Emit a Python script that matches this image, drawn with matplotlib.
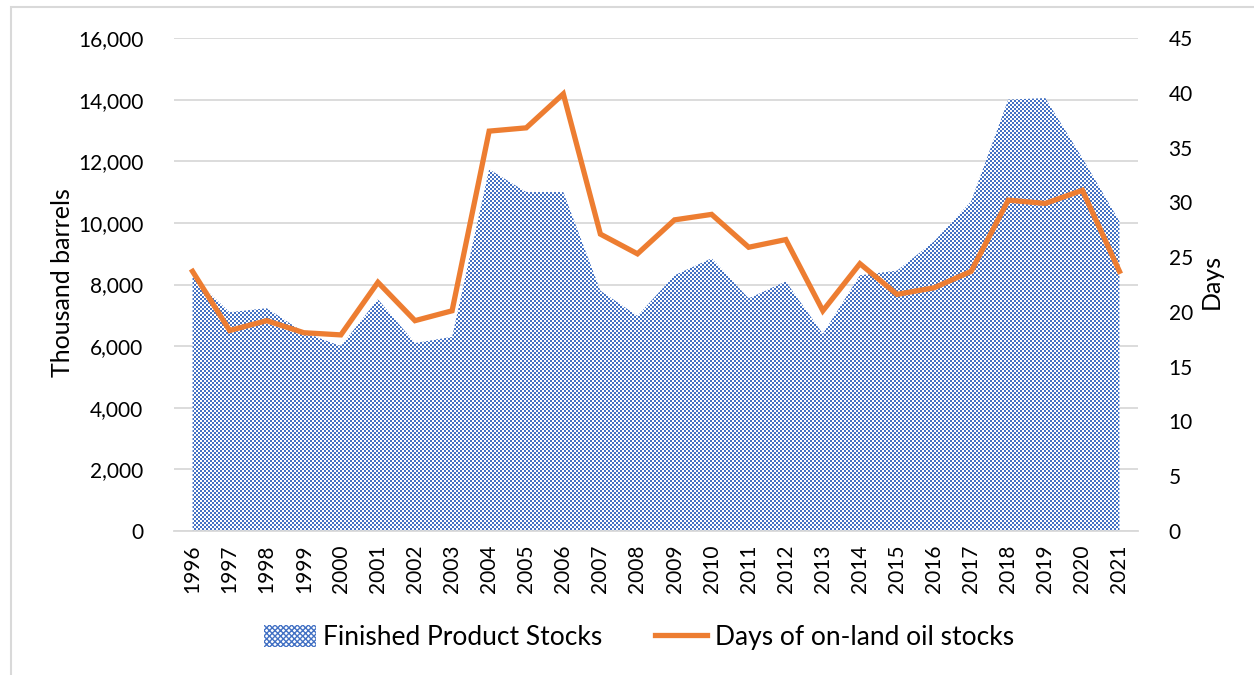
import numpy as np
import matplotlib
matplotlib.use("Agg")
import matplotlib.pyplot as plt
import matplotlib.patches as patches
from matplotlib.lines import Line2D
from matplotlib.ticker import FuncFormatter, MultipleLocator

plt.rcParams['font.family'] = ['Lato', 'DejaVu Sans']

# data
years = [str(y) for y in range(1996, 2022)]
stocks = [8250, 7100, 7230, 6450, 6000, 7520, 6100, 6300, 11740, 11000,
          11000, 7800, 6980, 8300, 8850, 7550, 8100, 6400, 8300, 8450,
          9400, 10700, 14000, 14050, 12100, 10050]
days = [23.7, 18.3, 19.2, 18.1, 17.9, 22.7, 19.2, 20.1, 36.5, 36.8,
        39.9, 27.1, 25.3, 28.4, 28.9, 25.9, 26.6, 20.1, 24.4, 21.6,
        22.2, 23.7, 30.2, 29.9, 31.1, 23.7]

blue = '#4472C4'
orange = '#ED7D31'
grid_c = '#D9D9D9'

W, H = 1254, 675
fig = plt.figure(figsize=(W / 100, H / 100), dpi=100)
ax = fig.add_axes([174 / W, 1 - 531 / H, 964 / W, 493 / H])
ax2 = ax.twinx()

x = np.arange(len(years))
ax.set_xlim(-0.5, len(years) - 0.5)
ax.set_ylim(0, 16000)
ax2.set_ylim(0, 45)

# checkerboard fill clipped to the area
poly = ax.fill_between(x, 0, stocks, facecolor='none', edgecolor='none')
ii, jj = np.indices((493, 964))
checker = ((ii // 2 + jj // 2) % 2).astype(float)
cmap = matplotlib.colors.ListedColormap(['white', blue])
img = ax.imshow(checker, cmap=cmap, extent=[-0.5, len(years) - 0.5, 0, 16000],
                aspect='auto', interpolation='none', zorder=2)
img.set_clip_path(poly.get_paths()[0], transform=ax.transData)

ax2.plot(x, days, color=orange, lw=3.8, solid_joinstyle='miter', zorder=3)

# axes styling
ax.yaxis.set_major_locator(MultipleLocator(2000))
ax.yaxis.set_major_formatter(FuncFormatter(lambda v, p: f'{int(v):,}'))
ax2.yaxis.set_major_locator(MultipleLocator(5))
ax.set_xticks(x)
ax.set_xticklabels(years, rotation=90)
ax.grid(axis='y', color=grid_c, lw=1.3, zorder=0)
ax.set_axisbelow(True)
for a in (ax, ax2):
    for s in a.spines.values():
        s.set_visible(False)
    a.tick_params(length=0, labelsize=15, colors='black')
ax.spines['bottom'].set_visible(True)
ax.spines['bottom'].set_color(grid_c)
ax.spines['bottom'].set_linewidth(1.3)
ax.tick_params(axis='y', pad=22)
ax.tick_params(axis='x', pad=10)
ax2.tick_params(axis='y', pad=22)

ax.set_ylabel('Thousand barrels', fontsize=18, va='center', rotation=90)
ax.yaxis.set_label_coords(-0.116, 0.503)
ax2.set_ylabel('Days', fontsize=18, va='center', rotation=90)
ax2.yaxis.set_label_coords(1.0757, 0.506)

# legend
area_handle = patches.Patch(facecolor='white', edgecolor=blue, hatch='xxxxxx', lw=0)
line_handle = Line2D([], [], color=orange, lw=3.8)
fig.legend([area_handle, line_handle],
           ['Finished Product Stocks', 'Days of on-land oil stocks'],
           loc='center', bbox_to_anchor=(0.5096, 0.056), ncol=2, frameon=False,
           fontsize=19, handlelength=1.95, handleheight=0.9, columnspacing=2.0,
           handletextpad=0.3)

# outer chart border
fig.patches.append(patches.Rectangle((11 / W, -0.05), 1.2, 1 - 7 / H + 0.05,
                                     transform=fig.transFigure, fill=False,
                                     edgecolor=grid_c, lw=1.5))

plt.savefig('out.png', dpi=100)
